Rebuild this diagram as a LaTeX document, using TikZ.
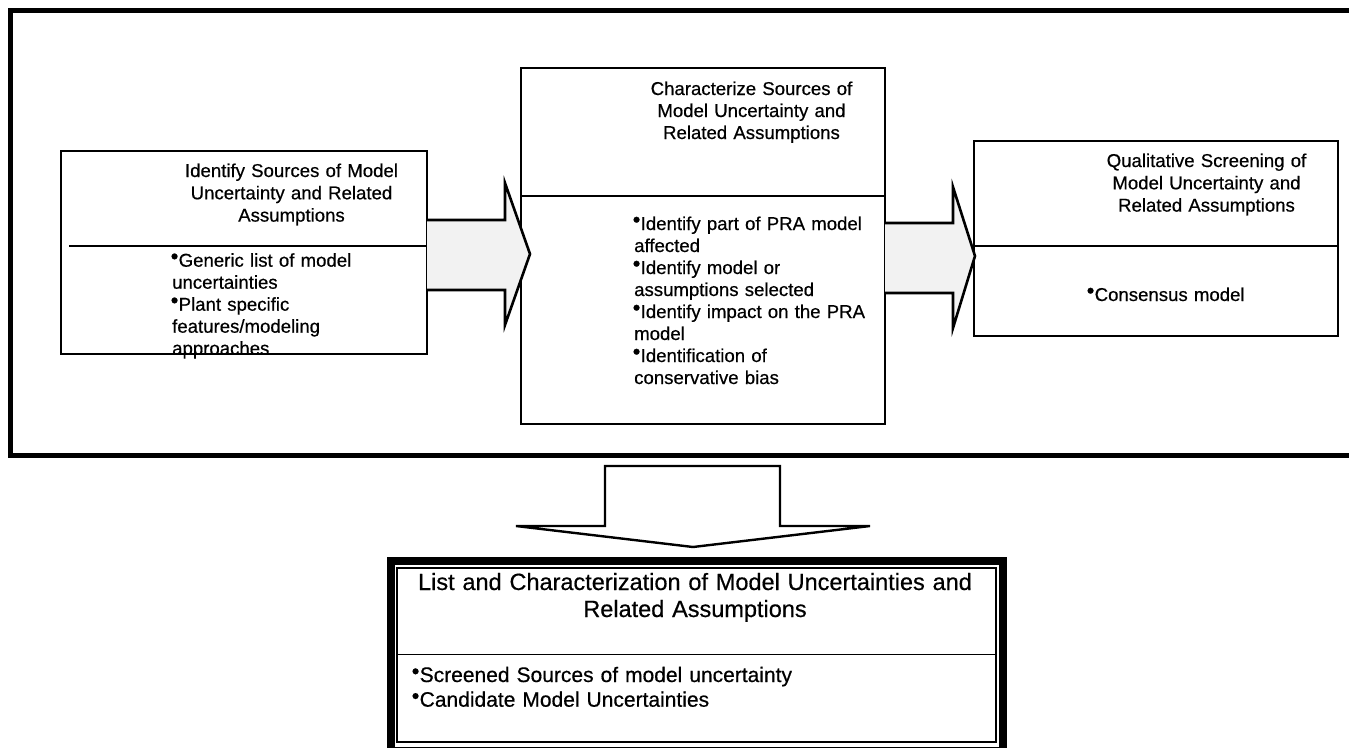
\documentclass[tikz,border=0pt]{standalone}
\usepackage{fontspec}
\setmainfont{Liberation Sans}[FakeBold=0.5]
\usepackage{graphicx}
% small raised bullet used in the item lists
\newcommand\itembul{\hspace{-1.5pt}\raisebox{0.16em}{\fontsize{22}{22}\selectfont\textbullet}\hspace{0.3pt}}
\begin{document}
\begin{tikzpicture}[x=1pt,y=-1pt,
  frame/.style={line width=4.5pt},
  stage/.style={draw, line width=2.4pt, fill=white, outer sep=0pt, inner sep=0pt, anchor=north west},
  divider/.style={line width=2pt},
  flow/.style={line width=2.6pt, line join=miter, fill=black!5},
  drop/.style={line width=2.4pt, line join=miter, fill=white},
  title/.style={anchor=base, inner sep=0pt, text width=360pt, align=center,
                font=\fontsize{18.6}{22.3}\selectfont},
  items/.style={anchor=base west, inner sep=0pt, text width=330pt, align=left,
                font=\fontsize{18.6}{22}\selectfont},
]
\useasboundingbox (0,0) rectangle (1349,747);

% outer frame (runs off the right edge)
\draw[frame] (1355,10.5) -- (10.5,10.5) -- (10.5,455.5) -- (1355,455.5);

% three process stages
\node[stage, minimum width=366pt, minimum height=203pt] (ident) at (61,151) {};
\node[stage, minimum width=364pt, minimum height=356pt] (charac) at (521,68) {};
\node[stage, minimum width=364pt, minimum height=195pt] (screen) at (974,141) {};

\draw[divider] (69,246) -- (ident.east |- 0,246);
\draw[divider] (charac.west |- 0,196) -- (charac.east |- 0,196);
\draw[divider] (screen.west |- 0,246) -- (screen.east |- 0,246);

% stage texts
\node[title] (identT) at (291.5,177) {Identify Sources of Model\\Uncertainty and Related\\Assumptions};
\node[items] (identL) at (172,266.7) {\itembul Generic list of model\\uncertainties\\\itembul Plant specific\\features/modeling\\approaches};

\node[title, font=\fontsize{18.6}{22}\selectfont] (characT) at (751.5,95) {Characterize Sources of\\Model Uncertainty and\\Related Assumptions};
\node[items] (characL) at (634,230) {\itembul Identify part of PRA model\\affected\\\itembul Identify model or\\assumptions selected\\\itembul Identify impact on the PRA\\model\\\itembul Identification of\\conservative bias};

\node[title] (screenT) at (1206.5,167) {Qualitative Screening of\\Model Uncertainty and\\Related Assumptions};
\node[items] (screenL) at (1088,301) {\itembul Consensus model};

% block arrows between the stages
\filldraw[flow] (ident.east |- 0,220) -- (505,220) -- (505,183) -- (530,254)
  -- (505,325) -- (505,290) -- (ident.east |- 0,290);
\filldraw[flow] (charac.east |- 0,223) -- (953,223) -- (953,187) -- (975,256)
  -- (953,328) -- (953,293) -- (charac.east |- 0,293);

% downward arrow to the summary
\filldraw[drop] (605,466) -- (780,466) -- (780,526) -- (870,526) -- (693,547)
  -- (516,526) -- (605,526) -- cycle;

% summary box with heavy double frame
\node[stage, line width=8pt, fill=none, minimum width=612pt, minimum height=190pt] (sumframe) at (391,561) {};
\node[stage, line width=1.5pt, fill=none, minimum width=599pt, minimum height=174pt] (summary) at (397,568) {};
\draw[line width=1.5pt] (summary.west |- 0,654.5) -- (summary.east |- 0,654.5);

\node[title, text width=600pt, font=\fontsize{23.5}{27}\selectfont] (summaryT) at (695,590)
  {List and Characterization of Model Uncertainties and\\Related Assumptions};
\node[items, text width=560pt, font=\fontsize{21}{24.7}\selectfont] (summaryL) at (413,682)
  {\itembul Screened Sources of model uncertainty\\\itembul Candidate Model Uncertainties};
\end{tikzpicture}
\end{document}
